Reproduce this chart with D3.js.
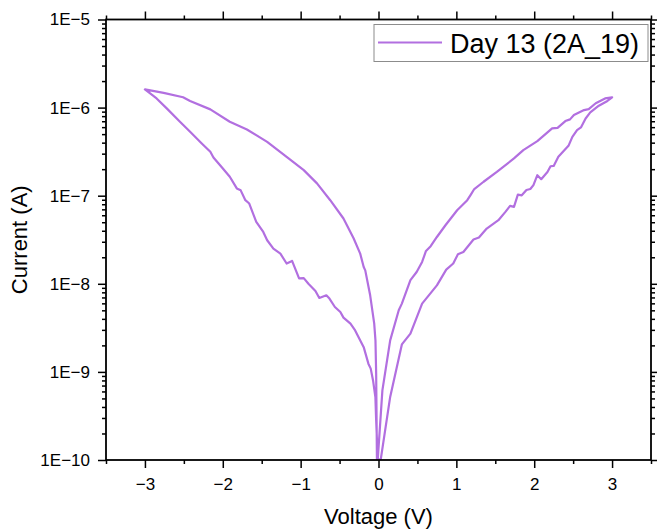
<!DOCTYPE html>
<html>
<head>
<meta charset="utf-8">
<script src="https://cdn.jsdelivr.net/npm/d3@7"></script>
<style>
  html, body { margin: 0; padding: 0; background: #fff; }
  svg { display: block; font-family: "Liberation Sans", Arial, sans-serif; }
</style>
</head>
<body>
<svg id="chart" width="657" height="532"></svg>
<script>
// ---- Data (voltage in V, |current| in A) ----
// Sweep 1: 0 V -> +3 V (lower branch)
const sweep1V = [0.00, 0.03, 0.15, 0.30, 0.41, 0.56, 0.75, 0.87, 0.96, 1.02, 1.09, 1.22, 1.29, 1.39, 1.54, 1.63, 1.69, 1.74, 1.79, 1.84, 1.90, 1.95, 1.99, 2.04, 2.09, 2.17, 2.21, 2.25, 2.31, 2.44, 2.49, 2.55, 2.60, 2.66, 2.72, 2.83, 2.94, 3.00];
const sweep1I = [1.0e-10, 1.03e-10, 5.2e-10, 2.05e-9, 2.72e-9, 5.96e-9, 9.6e-9, 1.45e-8, 1.70e-8, 2.16e-8, 2.30e-8, 3.18e-8, 3.35e-8, 4.24e-8, 5.27e-8, 6.55e-8, 7.66e-8, 7.46e-8, 1.03e-7, 1.01e-7, 1.16e-7, 1.19e-7, 1.32e-7, 1.71e-7, 1.54e-7, 1.86e-7, 2.16e-7, 2.18e-7, 2.76e-7, 3.68e-7, 4.66e-7, 5.55e-7, 5.96e-7, 7.53e-7, 8.81e-7, 1.05e-6, 1.19e-6, 1.31e-6];
// Sweep 2: +3 V -> 0 V (upper branch)
const sweep2V = [3.00, 2.91, 2.79, 2.70, 2.64, 2.51, 2.46, 2.40, 2.30, 2.23, 2.04, 1.86, 1.74, 1.52, 1.35, 1.23, 1.18, 1.14, 1.01, 0.86, 0.75, 0.67, 0.61, 0.56, 0.49, 0.41, 0.30, 0.26, 0.15, 0.05, -0.01];
const sweep2I = [1.31e-6, 1.27e-6, 1.12e-6, 9.62e-7, 9.37e-7, 8.22e-7, 7.35e-7, 7.03e-7, 5.89e-7, 5.80e-7, 4.16e-7, 3.29e-7, 2.65e-7, 1.86e-7, 1.44e-7, 1.19e-7, 1.01e-7, 8.89e-8, 6.84e-8, 4.62e-8, 3.40e-8, 2.67e-8, 2.36e-8, 1.77e-8, 1.36e-8, 1.10e-8, 5.96e-9, 5.0e-9, 2.28e-9, 6.17e-10, 1.0e-10];
// Sweep 3: 0 V -> -3 V (lower branch)
const sweep3V = [-0.01, -0.03, -0.04, -0.07, -0.10, -0.13, -0.19, -0.30, -0.36, -0.45, -0.49, -0.56, -0.63, -0.67, -0.76, -0.81, -0.90, -0.96, -1.02, -1.11, -1.18, -1.26, -1.35, -1.43, -1.48, -1.57, -1.66, -1.71, -1.77, -1.82, -1.91, -2.01, -2.12, -2.16, -2.27, -2.42, -2.55, -2.72, -2.85, -3.00];
const sweep3I = [1.04e-10, 2.81e-10, 5.18e-10, 8.0e-10, 1.09e-9, 1.24e-9, 1.91e-9, 2.96e-9, 3.53e-9, 4.13e-9, 4.78e-9, 5.45e-9, 6.79e-9, 7.40e-9, 6.90e-9, 8.28e-9, 1.00e-8, 1.16e-8, 1.15e-8, 1.82e-8, 1.70e-8, 2.20e-8, 2.51e-8, 3.12e-8, 3.88e-8, 5.04e-8, 8.15e-8, 8.89e-8, 1.15e-7, 1.21e-7, 1.64e-7, 2.09e-7, 2.72e-7, 3.15e-7, 3.92e-7, 5.31e-7, 6.90e-7, 9.8e-7, 1.27e-6, 1.61e-6];
// Sweep 4: -3 V -> 0 V (upper branch)
const sweep4V = [-3.00, -2.76, -2.51, -2.42, -2.16, -1.91, -1.69, -1.43, -1.18, -0.96, -0.79, -0.62, -0.45, -0.32, -0.235, -0.19, -0.17, -0.107, -0.055, -0.039, -0.030, -0.02];
const sweep4I = [1.61e-6, 1.47e-6, 1.31e-6, 1.19e-6, 9.55e-7, 6.90e-7, 5.65e-7, 4.08e-7, 2.76e-7, 1.95e-7, 1.38e-7, 8.89e-8, 5.51e-8, 3.29e-8, 2.20e-8, 1.55e-8, 1.42e-8, 7.4e-9, 3.53e-9, 2.28e-9, 9.6e-10, 1.0e-10];

const seriesName = "Day 13 (2A_19)";
const xMajorTicks = [-3, -2, -1, 0, 1, 2, 3];
const xMinorTicks = [-3.5, -2.5, -1.5, -0.5, 0.5, 1.5, 2.5, 3.5];
const yMajorTicks = [1e-10, 1e-9, 1e-8, 1e-7, 1e-6, 1e-5];
const xTitle = "Voltage (V)";
const yTitle = "Current (A)";

// ---- Layout ----
const svg = d3.select("#chart");
const L = 106, R = 651, T = 19.5, B = 460;
const color = "#b26fe0";

const x = d3.scaleLinear().domain([-3.5, 3.5]).range([L, R]);
const y = d3.scaleLog().domain([1e-10, 1e-5]).range([B, T]);

const yMinorTicks = [];
for (let e = -10; e < -5; e++) {
  for (let k = 2; k <= 9; k++) yMinorTicks.push(k * Math.pow(10, e));
}

const fmtY = d => "1E\u2212" + Math.round(-Math.log10(d));
const fmtX = d => d3.format("d")(d);

svg.append("defs").append("clipPath").attr("id", "clip")
  .append("rect").attr("x", L).attr("y", T).attr("width", R - L).attr("height", B - T);

// data line
const points = [];
[[sweep1V, sweep1I], [sweep2V, sweep2I], [sweep3V, sweep3I], [sweep4V, sweep4I]].forEach(([vs, is]) => {
  vs.forEach((v, i) => points.push([v, is[i]]));
});
const line = d3.line().x(d => x(d[0])).y(d => y(d[1]));
svg.append("path")
  .datum(points)
  .attr("clip-path", "url(#clip)")
  .attr("d", line)
  .attr("fill", "none")
  .attr("stroke", color)
  .attr("stroke-width", 2.2)
  .attr("stroke-linejoin", "round");

// axes
function styleAxis(g) {
  g.select(".domain").remove();
  g.selectAll(".tick line").attr("stroke", "#000").attr("stroke-width", 1.5);
  g.selectAll(".tick text").attr("fill", "#000").attr("font-size", 17)
    .attr("font-family", "'Liberation Sans', Arial, sans-serif");
}
const majorLen = 8, minorLen = 4;

// bottom
svg.append("g").attr("transform", `translate(0,${B})`)
  .call(d3.axisBottom(x).tickValues(xMajorTicks).tickFormat(fmtX).tickSize(majorLen).tickSizeOuter(0).tickPadding(10))
  .call(styleAxis);
svg.append("g").attr("transform", `translate(0,${B})`)
  .call(d3.axisBottom(x).tickValues(xMinorTicks).tickFormat("").tickSize(minorLen).tickSizeOuter(0))
  .call(styleAxis);
// top
svg.append("g").attr("transform", `translate(0,${T})`)
  .call(d3.axisTop(x).tickValues(xMajorTicks).tickFormat("").tickSize(majorLen).tickSizeOuter(0))
  .call(styleAxis);
svg.append("g").attr("transform", `translate(0,${T})`)
  .call(d3.axisTop(x).tickValues(xMinorTicks).tickFormat("").tickSize(minorLen).tickSizeOuter(0))
  .call(styleAxis);
// left
svg.append("g").attr("transform", `translate(${L},0)`)
  .call(d3.axisLeft(y).tickValues(yMajorTicks).tickFormat(fmtY).tickSize(majorLen).tickSizeOuter(0).tickPadding(8))
  .call(styleAxis);
svg.append("g").attr("transform", `translate(${L},0)`)
  .call(d3.axisLeft(y).tickValues(yMinorTicks).tickFormat("").tickSize(minorLen).tickSizeOuter(0))
  .call(styleAxis);
// right
svg.append("g").attr("transform", `translate(${R},0)`)
  .call(d3.axisRight(y).tickValues(yMajorTicks).tickFormat("").tickSize(majorLen).tickSizeOuter(0))
  .call(styleAxis);
svg.append("g").attr("transform", `translate(${R},0)`)
  .call(d3.axisRight(y).tickValues(yMinorTicks).tickFormat("").tickSize(minorLen).tickSizeOuter(0))
  .call(styleAxis);

// frame
svg.append("rect")
  .attr("x", L).attr("y", T).attr("width", R - L).attr("height", B - T)
  .attr("fill", "none").attr("stroke", "#000").attr("stroke-width", 1.8);

// axis titles
svg.append("text")
  .attr("x", (L + R) / 2).attr("y", 524)
  .attr("text-anchor", "middle").attr("font-size", 22).attr("fill", "#000")
  .text(xTitle);
svg.append("text")
  .attr("transform", `translate(27,${(T + B) / 2}) rotate(-90)`)
  .attr("text-anchor", "middle").attr("font-size", 22).attr("fill", "#000")
  .text(yTitle);

// legend
const lg = svg.append("g");
lg.append("rect").attr("x", 374).attr("y", 24.5).attr("width", 274).attr("height", 37)
  .attr("fill", "#fff").attr("stroke", "#8c8c8c").attr("stroke-width", 1);
lg.append("line").attr("x1", 378).attr("x2", 442).attr("y1", 42.5).attr("y2", 42.5)
  .attr("stroke", color).attr("stroke-width", 2.2);
lg.append("text").attr("x", 450).attr("y", 52.5).attr("font-size", 27).attr("fill", "#000")
  .text(seriesName);
</script>
</body>
</html>
